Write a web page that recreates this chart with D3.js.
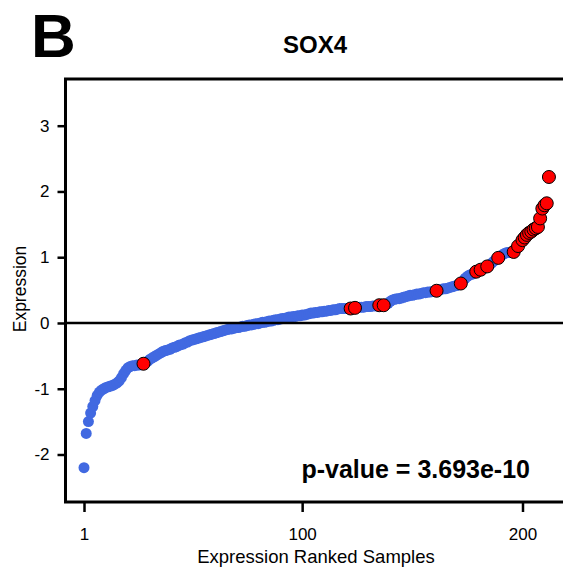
<!DOCTYPE html>
<html lang="en">
<head>
<meta charset="UTF-8">
<title>SOX4 ranked expression</title>
<script src="https://d3js.org/d3.v7.min.js"></script>
<style>
  body { margin: 0; background: #fff; }
  svg text { font-family: "Liberation Sans", Arial, sans-serif; fill: #000; }
  .tick line { stroke: #000; stroke-width: 2.5; }
</style>
</head>
<body>
<svg id="chart" width="563" height="571"></svg>
<script>
// expression values, ranked (sample 1 .. 212)
const expression = [
  -2.20, -1.68, -1.50, -1.37, -1.27, -1.18, -1.10, -1.05, -1.02, -1.00,
  -0.98, -0.97, -0.96, -0.95, -0.93, -0.91, -0.88, -0.83, -0.77, -0.72,
  -0.68, -0.66, -0.65, -0.65, -0.64, -0.64, -0.63, -0.62, -0.60, -0.58,
  -0.55, -0.53, -0.51, -0.49, -0.47, -0.45, -0.43, -0.42, -0.41, -0.40,
  -0.38, -0.37, -0.36, -0.34, -0.33, -0.32, -0.30, -0.29, -0.27, -0.26,
  -0.25, -0.24, -0.23, -0.22, -0.21, -0.20, -0.19, -0.18, -0.17, -0.16,
  -0.15, -0.14, -0.13, -0.12, -0.11, -0.10, -0.09, -0.09, -0.08, -0.07,
  -0.07, -0.06, -0.05, -0.05, -0.04, -0.03, -0.03, -0.02, -0.01, -0.01,
   0.00,  0.01,  0.01,  0.02,  0.03,  0.03,  0.04,  0.05,  0.05,  0.06,
   0.07,  0.07,  0.08,  0.09,  0.09,  0.10,  0.10,  0.11,  0.11,  0.12,
   0.12,  0.13,  0.14,  0.15,  0.15,  0.16,  0.16,  0.17,  0.17,  0.18,
   0.18,  0.19,  0.19,  0.20,  0.20,  0.21,  0.22,  0.22,  0.22,  0.22,
   0.22,  0.22,  0.22,  0.23,  0.23,  0.24,  0.24,  0.24,  0.25,  0.25,
   0.25,  0.26,  0.26,  0.26,  0.27,  0.27,  0.27,  0.28,  0.30,  0.33,
   0.35,  0.36,  0.37,  0.37,  0.38,  0.39,  0.40,  0.41,  0.42,  0.42,
   0.43,  0.44,  0.44,  0.45,  0.46,  0.46,  0.47,  0.47,  0.48,  0.48,
   0.49,  0.50,  0.51,  0.52,  0.52,  0.53,  0.54,  0.55,  0.56,  0.57,
   0.58,  0.60,  0.64,  0.68,  0.71,  0.73,  0.74,  0.76,  0.78,  0.79,
   0.81,  0.82,  0.84,  0.86,  0.88,  0.91,  0.94,  0.97,  0.99,  1.02,
   1.04,  1.06,  1.07,  1.07,  1.07,  1.08,  1.12,  1.17,  1.21,  1.26,
   1.30,  1.34,  1.37,  1.39,  1.42,  1.44,  1.46,  1.59,  1.74,  1.79,
   1.82,  2.22
];

// ranks of the highlighted (red) samples
const highlighted = [28, 122, 124, 135, 137, 161, 172, 179, 181, 184, 189,
  196, 198, 200, 201, 202, 203, 204, 205, 206, 207, 208, 209, 210, 211, 212];

const xTicks = [1, 100, 200];
const yTicks = [-2, -1, 0, 1, 2, 3];
const geneName = "SOX4";
const pValueText = "p-value = 3.693e-10";

const svg = d3.select("#chart");

// plot box (right edge runs past the window like the original)
const box = { left: 65.5, top: 79, right: 568, bottom: 502 };

const x = d3.scaleLinear().domain([1, 200]).range([84, 522.5]);
const y = d3.scaleLinear().domain([-2, 3]).range([454.5, 125.7]);

const points = expression.map((v, i) => ({ rank: i + 1, value: v }));
const redSet = new Set(highlighted);

// blue points first
svg.append("g")
  .selectAll("circle")
  .data(points.filter(d => !redSet.has(d.rank)))
  .join("circle")
  .attr("cx", d => x(d.rank))
  .attr("cy", d => y(d.value))
  .attr("r", 5.5)
  .attr("fill", "#4169e1");

// red ones on top
svg.append("g")
  .selectAll("circle")
  .data(points.filter(d => redSet.has(d.rank)))
  .join("circle")
  .attr("cx", d => x(d.rank))
  .attr("cy", d => y(d.value))
  .attr("r", 6.5)
  .attr("fill", "#ff0000")
  .attr("stroke", "#000")
  .attr("stroke-width", 1);

// zero line
svg.append("line")
  .attr("x1", box.left).attr("x2", box.right)
  .attr("y1", y(0)).attr("y2", y(0))
  .attr("stroke", "#000").attr("stroke-width", 2.5);

// frame
svg.append("rect")
  .attr("x", box.left).attr("y", box.top)
  .attr("width", box.right - box.left)
  .attr("height", box.bottom - box.top)
  .attr("fill", "none")
  .attr("stroke", "#000")
  .attr("stroke-width", 3);

// axes (plain hyphen for negatives, like the original)
const yAxis = svg.append("g")
  .attr("transform", `translate(${box.left},0)`)
  .call(d3.axisLeft(y).tickValues(yTicks).tickSize(8).tickPadding(8).tickFormat(d => String(d)));
yAxis.select(".domain").remove();
yAxis.selectAll("text").attr("font-size", 17);

const xAxis = svg.append("g")
  .attr("transform", `translate(0,${box.bottom})`)
  .call(d3.axisBottom(x).tickValues(xTicks).tickSize(10).tickPadding(16).tickFormat(d => String(d)));
xAxis.select(".domain").remove();
xAxis.selectAll("text").attr("font-size", 17);

// labels
svg.append("text")
  .attr("x", 316).attr("y", 563)
  .attr("text-anchor", "middle")
  .attr("font-size", 18.5)
  .text("Expression Ranked Samples");

svg.append("text")
  .attr("transform", "translate(26,289) rotate(-90)")
  .attr("text-anchor", "middle")
  .attr("font-size", 17.5)
  .text("Expression");

svg.append("text")
  .attr("x", 315).attr("y", 53)
  .attr("text-anchor", "middle")
  .attr("font-size", 24)
  .attr("font-weight", "bold")
  .text(geneName);

svg.append("text")
  .attr("x", 31).attr("y", 57)
  .attr("font-size", 62)
  .attr("font-weight", "bold")
  .text("B");

svg.append("text")
  .attr("x", 530).attr("y", 478)
  .attr("text-anchor", "end")
  .attr("font-size", 25)
  .attr("font-weight", "bold")
  .text(pValueText);
</script>
</body>
</html>
